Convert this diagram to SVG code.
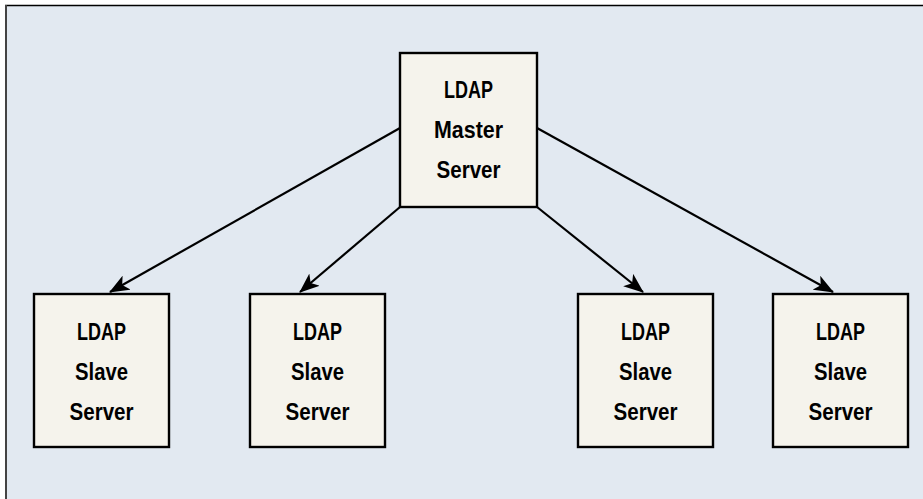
<svg xmlns="http://www.w3.org/2000/svg" width="923" height="499" viewBox="0 0 923 499">
<style>
.box{fill:#f5f3ec;stroke:#000;stroke-width:2.4}
.lbl{font-family:"Liberation Sans",Arial,sans-serif;font-weight:bold;font-size:23px;fill:#000;text-anchor:middle}
.conn{stroke:#000;stroke-width:2.2;fill:none;marker-end:url(#ah)}
</style>
<defs>
<marker id="ah" viewBox="0 0 20 16" refX="19" refY="8" markerWidth="20" markerHeight="16" markerUnits="userSpaceOnUse" orient="auto">
<path d="M0,0 L20,8 L0,16 L5,8 Z" fill="#000"/>
</marker>
</defs>
<rect x="0" y="0" width="923" height="499" fill="#fff"/>
<rect x="6" y="6" width="917" height="493" fill="#e2e9f1"/>
<line x1="5" y1="5.5" x2="923" y2="5.5" stroke="#000" stroke-width="1.5"/>
<line x1="6" y1="5" x2="6" y2="499" stroke="#444" stroke-width="2"/>
<g id="connectors">
<line class="conn" x1="400" y1="128" x2="110" y2="292"/>
<line class="conn" x1="400" y1="207" x2="300" y2="292"/>
<line class="conn" x1="537" y1="207" x2="643" y2="292"/>
<line class="conn" x1="537" y1="128" x2="833" y2="292"/>
</g>
<g id="master">
<rect class="box" x="400" y="53" width="137" height="154"/>
<text class="lbl" x="468.5" y="98" textLength="49" lengthAdjust="spacingAndGlyphs">LDAP</text>
<text class="lbl" x="468.5" y="138" textLength="69" lengthAdjust="spacingAndGlyphs">Master</text>
<text class="lbl" x="468.5" y="178" textLength="64" lengthAdjust="spacingAndGlyphs">Server</text>
</g>
<g id="slave1">
<rect class="box" x="34" y="294" width="135" height="153"/>
<text class="lbl" x="101.5" y="340" textLength="49" lengthAdjust="spacingAndGlyphs">LDAP</text>
<text class="lbl" x="101.5" y="380" textLength="53" lengthAdjust="spacingAndGlyphs">Slave</text>
<text class="lbl" x="101.5" y="420" textLength="64" lengthAdjust="spacingAndGlyphs">Server</text>
</g>
<g id="slave2">
<rect class="box" x="250" y="294" width="135" height="153"/>
<text class="lbl" x="317.5" y="340" textLength="49" lengthAdjust="spacingAndGlyphs">LDAP</text>
<text class="lbl" x="317.5" y="380" textLength="53" lengthAdjust="spacingAndGlyphs">Slave</text>
<text class="lbl" x="317.5" y="420" textLength="64" lengthAdjust="spacingAndGlyphs">Server</text>
</g>
<g id="slave3">
<rect class="box" x="578" y="294" width="135" height="153"/>
<text class="lbl" x="645.5" y="340" textLength="49" lengthAdjust="spacingAndGlyphs">LDAP</text>
<text class="lbl" x="645.5" y="380" textLength="53" lengthAdjust="spacingAndGlyphs">Slave</text>
<text class="lbl" x="645.5" y="420" textLength="64" lengthAdjust="spacingAndGlyphs">Server</text>
</g>
<g id="slave4">
<rect class="box" x="773" y="294" width="135" height="153"/>
<text class="lbl" x="840.5" y="340" textLength="49" lengthAdjust="spacingAndGlyphs">LDAP</text>
<text class="lbl" x="840.5" y="380" textLength="53" lengthAdjust="spacingAndGlyphs">Slave</text>
<text class="lbl" x="840.5" y="420" textLength="64" lengthAdjust="spacingAndGlyphs">Server</text>
</g>
</svg>
